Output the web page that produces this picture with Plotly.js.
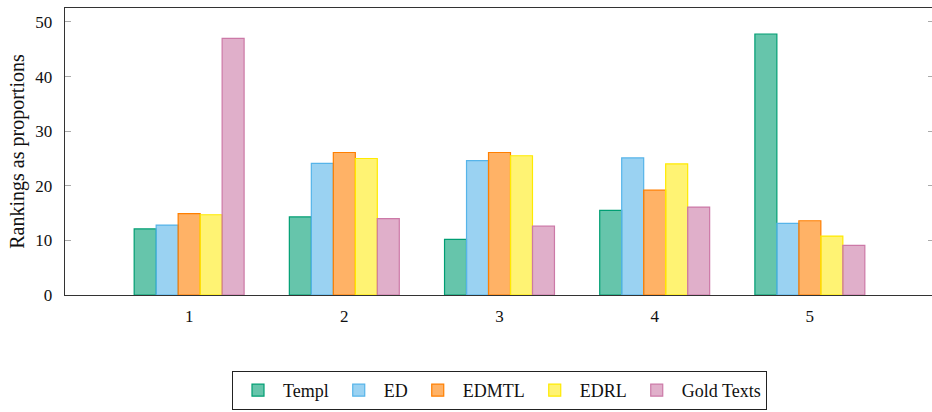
<!DOCTYPE html>
<html>
<head>
<meta charset="utf-8">
<script src="https://cdn.plot.ly/plotly-3.0.1.min.js"></script>
<style>
html,body{margin:0;padding:0;overflow:hidden;background:#fff;}
#chart{width:936px;height:412px;}
</style>
</head>
<body>
<div id="chart"></div>
<script>
const categories = [1, 2, 3, 4, 5];
const seriesNames = ["Templ", "ED", "EDMTL", "EDRL", "Gold Texts"];
const templ = [12.1, 14.3, 10.2, 15.5, 47.8];
const ed = [12.8, 24.1, 24.6, 25.1, 13.1];
const edmtl = [14.9, 26.1, 26.1, 19.2, 13.6];
const edrl = [14.7, 25.0, 25.5, 24.0, 10.8];
const gold = [47.0, 14.0, 12.6, 16.1, 9.1];
const yTickVals = [0, 10, 20, 30, 40, 50];

const lineColors = ["rgb(0,158,115)", "rgb(86,180,233)", "rgb(255,127,0)", "rgb(255,234,0)", "rgb(204,121,167)"];
const fillColors = ["rgba(0,158,115,0.6)", "rgba(86,180,233,0.6)", "rgba(255,127,0,0.6)", "rgba(255,234,0,0.55)", "rgba(204,121,167,0.6)"];
const values = [templ, ed, edmtl, edrl, gold];

const traces = seriesNames.map((name, i) => ({
  type: "bar",
  name: name,
  x: categories,
  y: values[i],
  marker: {color: fillColors[i], line: {color: lineColors[i], width: 1.2}},
  hoverinfo: "x+y+name"
}));

const FAM = "Liberation Serif, serif";
const mk = (s) => ({family: FAM, size: s, color: "#111"});

const layout = {
  width: 936, height: 412,
  margin: {l: 65, r: 2, t: 8, b: 117},
  paper_bgcolor: "#fff", plot_bgcolor: "#fff",
  font: mk(17),
  barmode: "group",
  bargap: 0.2915,
  bargroupgap: 0,
  showlegend: true,
  xaxis: {
    range: [0.2, 5.8],
    tickvals: categories,
    ticktext: categories.map(String),
    ticks: "",
    showgrid: false, zeroline: false,
    showline: true, linecolor: "#333", linewidth: 1.3, mirror: true,
    ticklabelstandoff: 5,
    tickfont: mk(17)
  },
  yaxis: {
    range: [0, 52.56],
    tickvals: yTickVals,
    ticks: "inside", ticklen: 6, tickcolor: "#aaa", tickwidth: 1,
    showgrid: false, zeroline: false,
    showline: true, linecolor: "#333", linewidth: 1.3, mirror: "ticks",
    ticklabelstandoff: 8,
    tickfont: mk(17),
    title: {text: "Rankings as proportions", font: mk(20), standoff: 5}
  },
  legend: {
    orientation: "h",
    xref: "paper", x: 0.5, xanchor: "center",
    yref: "container", y: 0.005, yanchor: "bottom",
    bordercolor: "#222", borderwidth: 1,
    font: mk(18),
    itemwidth: 40,
    traceorder: "normal"
  }
};

Plotly.newPlot("chart", traces, layout, {displayModeBar: false, staticPlot: true});
</script>
</body>
</html>
